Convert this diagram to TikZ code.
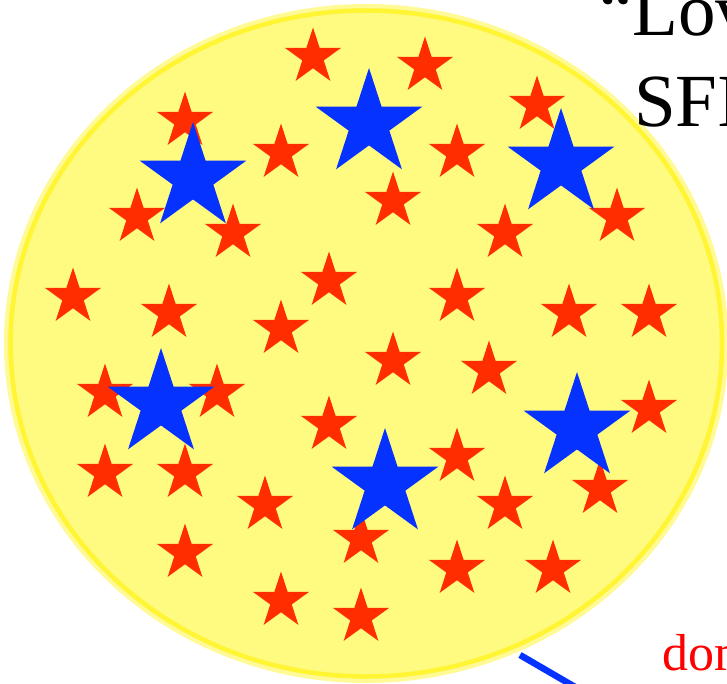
\documentclass[tikz,border=0pt]{standalone}
\usepackage{fontspec}
\setmainfont{Liberation Serif}
\usetikzlibrary{shapes.geometric}
\definecolor{clumpfill}{RGB}{255,250,128}
\definecolor{clumphalo}{RGB}{255,250,150}
\definecolor{clumpedge}{RGB}{255,245,50}
\definecolor{starred}{RGB}{255,45,0}
\definecolor{starblue}{RGB}{5,50,255}

\begin{document}
\begin{tikzpicture}[x=1pt, y=-1pt,
  clump/.style={ellipse, fill=clumpfill, minimum width=711.5pt, minimum height=666pt,
                inner sep=0pt, preaction={draw=clumphalo, line width=13pt},
                draw=clumpedge, line width=4.5pt},
  lowstar/.style={star, star points=5, star point ratio=2.618, fill=starred,
                  minimum size=59pt, inner sep=0pt},
  highstar/.style={star, star points=5, star point ratio=2.618, fill=starblue,
                   minimum size=112pt, inner sep=0pt},
  title/.style={anchor=base west, inner sep=0pt, font=\fontsize{75}{90}\selectfont},
  tag/.style={anchor=base west, inner sep=0pt, text=red, font=\fontsize{52}{62}\selectfont},
  link/.style={draw=starblue, line width=6.5pt}
]
\useasboundingbox (0,0) rectangle (727,684);
\clip (0,0) rectangle (727,684);

\node[clump] (clump) at (366.25,343.5) {};

\foreach \x/\y [count=\i] in {313/57, 425/66, 185/121, 537/105, 281/153, 457/153,
    393/201, 137/217, 233/233, 505/233, 617/217, 329/281, 73/297, 169/313,
    457/297, 569/313, 649/313, 281/329, 393/361, 489/370, 105/393, 217/393,
    649/409, 329/425, 457/457, 105/473, 185/473, 600/489, 265/505, 505/505,
    361/539, 185/553, 457/569, 553/569, 281/601, 361/617}
  \node[lowstar] (red\i) at (\x,\y) {};

\foreach \x/\y [count=\i] in {193/178, 369/124, 561/164, 161/404, 577/428, 385/484}
  \node[highstar] (blue\i) at (\x,\y) {};

\node[title] (line1) at (599,36) {“Lov};
\node[title] (line2) at (634,127) {SFI};
\node[tag] (dom) at (662,670) {dom};

\coordinate (linkstart) at (520,655);
\coordinate (linkend) at (625,716);
\draw[link] (linkstart) -- (linkend);
\end{tikzpicture}
\end{document}
